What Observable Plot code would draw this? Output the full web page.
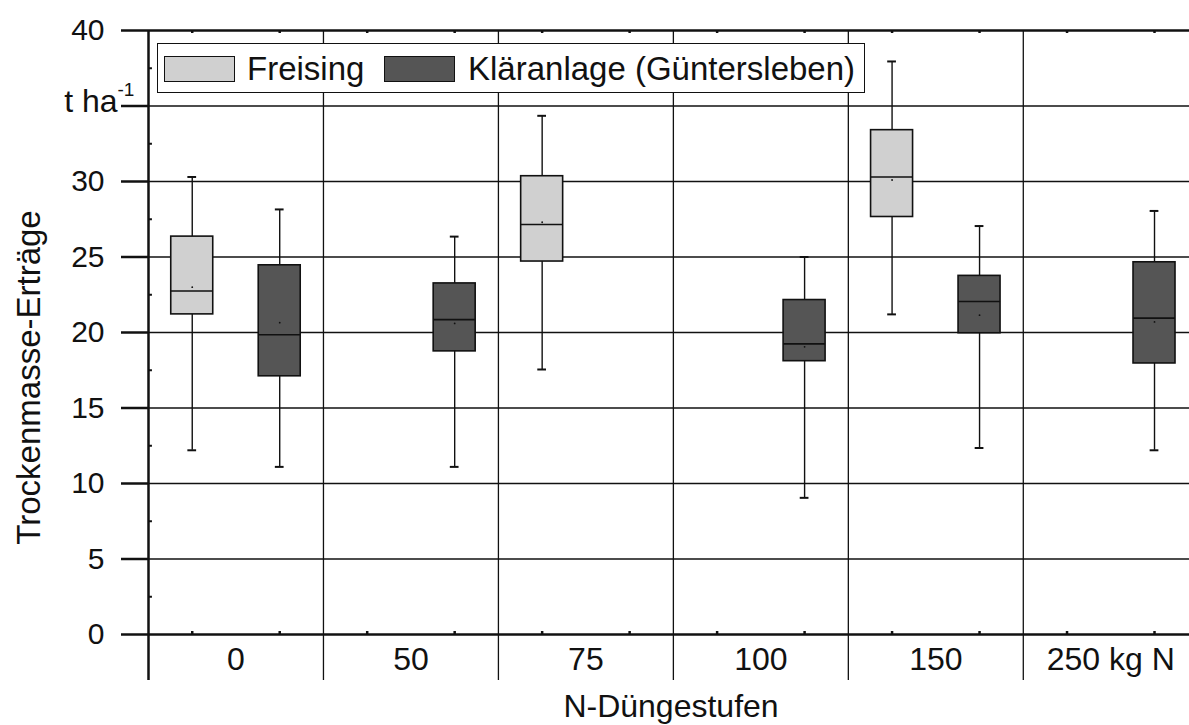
<!DOCTYPE html>
<html>
<head>
<meta charset="utf-8">
<script src="https://cdn.jsdelivr.net/npm/d3@7"></script>
<script src="https://cdn.jsdelivr.net/npm/@observablehq/plot@0.6"></script>
<style>
  html, body { margin: 0; padding: 0; background: white; overflow: hidden; }
  #wrap { position: relative; width: 1189px; height: 725px; font-family: "Liberation Sans", Arial, sans-serif; }
  #legend { position: absolute; left: 157px; top: 43px; width: 706px; height: 48px; border: 1.5px solid #111; background: white; }
  .sw { position: absolute; top: 12px; width: 69px; height: 24px; border: 1.5px solid #111; }
  .lt { position: absolute; top: 8px; font-size: 33px; line-height: 33px; color: #111; white-space: nowrap; }
</style>
</head>
<body>
<div id="wrap">
  <div id="chart"></div>
  <div id="legend"></div>
</div>
<script>
// ---- data ----
const categories = ["0", "50", "75", "100", "150", "250 kg N"];
const seriesNames = ["Freising", "Kläranlage (Güntersleben)"];
const seriesColors = ["#d0d0d0", "#555555"];

// Freising
const frCats = ["0", "75", "150"];
const frLo   = [12.2, 17.55, 21.2];
const frQ1   = [21.2, 24.7, 27.65];
const frMed  = [22.75, 27.15, 30.3];
const frMean = [23.0, 27.3, 30.1];
const frQ3   = [26.35, 30.35, 33.4];
const frHi   = [30.3, 34.35, 37.95];

// Kläranlage (Güntersleben)
const klCats = ["0", "50", "100", "150", "250 kg N"];
const klLo   = [11.1, 11.1, 9.05, 12.35, 12.2];
const klQ1   = [17.1, 18.75, 18.1, 19.95, 17.95];
const klMed  = [19.85, 20.85, 19.25, 22.05, 20.95];
const klMean = [20.65, 20.6, 19.05, 21.15, 20.7];
const klQ3   = [24.45, 23.25, 22.15, 23.75, 24.65];
const klHi   = [28.15, 26.35, 25.0, 27.05, 28.05];

const yTicks = [0, 5, 10, 15, 20, 25, 30, 35, 40];
const yMinor = [2.5, 7.5, 12.5, 17.5, 22.5, 27.5, 32.5, 37.5];
const yUnitTick = 35;
const yUnit = "t ha";
const yUnitSup = "-1";
const xTitle = "N-Düngestufen";
const yTitle = "Trockenmasse-Erträge";

// ---- build table ----
function build(si, cats, lo, q1, med, mean, q3, hi) {
  return cats.map((c, i) => ({
    series: seriesNames[si],
    pos: 2 * categories.indexOf(c) + (si === 0 ? 0.5 : 1.5),
    lo: lo[i], q1: q1[i], med: med[i], mean: mean[i], q3: q3[i], hi: hi[i]
  }));
}
const rows = [
  ...build(0, frCats, frLo, frQ1, frMed, frMean, frQ3, frHi),
  ...build(1, klCats, klLo, klQ1, klMed, klMean, klQ3, klHi)
];
const nSlots = categories.length * 2;
const slotCenters = d3.range(nSlots).map(i => i + 0.5);
const catCenters = categories.map((c, i) => 2 * i + 1);
const catBounds = d3.range(1, categories.length).map(i => 2 * i);
const halfBox = 0.24, halfCap = 0.05;
const below = -3.05;

const chart = Plot.plot({
  width: 1189,
  height: 725,
  marginLeft: 148,
  marginRight: 0,
  marginTop: 30,
  marginBottom: 91,
  x: {domain: [0, nSlots], range: [148, 1197.75], axis: null, label: null},
  y: {domain: [0, 40], axis: null, label: null},
  color: {domain: seriesNames, range: seriesColors},
  style: {fontFamily: "'Liberation Sans', Arial, sans-serif", background: "white", color: "#111", overflow: "visible"},
  marks: [
    // horizontal grid
    Plot.ruleY(yTicks.filter(v => v > 0 && v < 40), {x1: 0, x2: nSlots, stroke: "#111", strokeWidth: 1.3}),
    // vertical category separators
    Plot.ruleX(catBounds, {y1: 40, y2: below, stroke: "#111", strokeWidth: 1.3}),
    // frame top and bottom
    Plot.ruleY([40], {x1: 0, x2: nSlots, stroke: "#111", strokeWidth: 2.5}),
    Plot.ruleY([0], {x1: 0, x2: nSlots, stroke: "#111", strokeWidth: 2.5}),
    // left axis line
    Plot.ruleX([0], {y1: 40, y2: below, stroke: "#111", strokeWidth: 2.5}),
    // minor ticks
    Plot.ruleY(yMinor, {x1: 0, x2: 0.045, stroke: "#111", strokeWidth: 2}),
    Plot.ruleX(slotCenters, {y1: 40, y2: 39.8, stroke: "#111", strokeWidth: 2.5}),
    Plot.ruleX(slotCenters, {y1: 0, y2: 0.2, stroke: "#111", strokeWidth: 2.5}),
    // whiskers
    Plot.ruleX(rows, {x: "pos", y1: "lo", y2: "q1", stroke: "#111", strokeWidth: 1.4}),
    Plot.ruleX(rows, {x: "pos", y1: "q3", y2: "hi", stroke: "#111", strokeWidth: 1.4}),
    Plot.ruleY(rows, {y: "lo", x1: d => d.pos - halfCap, x2: d => d.pos + halfCap, stroke: "#111", strokeWidth: 2}),
    Plot.ruleY(rows, {y: "hi", x1: d => d.pos - halfCap, x2: d => d.pos + halfCap, stroke: "#111", strokeWidth: 2}),
    // boxes
    Plot.rect(rows, {x1: d => d.pos - halfBox, x2: d => d.pos + halfBox, y1: "q1", y2: "q3", fill: "series", stroke: "#111", strokeWidth: 1.6}),
    // medians
    Plot.ruleY(rows, {y: "med", x1: d => d.pos - halfBox, x2: d => d.pos + halfBox, stroke: "#111", strokeWidth: 1.6}),
    // means
    Plot.dot(rows, {x: "pos", y: "mean", r: 0.9, fill: "#111", stroke: null}),
    // y axis ticks & labels
    Plot.axisY({ticks: yTicks, tickSize: 27, tickPadding: 17, fontSize: 30, strokeWidth: 2.5, label: null,
      tickFormat: d => d === yUnitTick ? "" : String(d)}),
    // unit label
    Plot.text([yUnitTick], {y: d => d, frameAnchor: "left", dx: -31, dy: -4, text: () => yUnit, textAnchor: "end", fontSize: 32, fill: "#111"}),
    Plot.text([yUnitTick], {y: d => d, frameAnchor: "left", dx: -31, dy: -16, text: () => yUnitSup, textAnchor: "start", fontSize: 19, fill: "#111"}),
    // x category labels
    Plot.axisX({ticks: catCenters, tickSize: 0, tickPadding: 13, fontSize: 32, label: null,
      tickFormat: d => categories[(d - 1) / 2]}),
    // axis titles
    Plot.text([xTitle], {frameAnchor: "bottom", textAnchor: "middle", lineAnchor: "middle", dx: 2, dy: 72, fontSize: 32, fill: "#111"}),
    Plot.text([yTitle], {frameAnchor: "left", textAnchor: "middle", lineAnchor: "middle", dx: -119, dy: 45, rotate: -90, fontSize: 33, fill: "#111"})
  ]
});
document.getElementById("chart").appendChild(chart);

// legend (HTML overlay)
const legend = document.getElementById("legend");
const items = [
  {swLeft: 6, txtLeft: 89},
  {swLeft: 226, txtLeft: 310}
];
seriesNames.forEach((name, i) => {
  const sw = document.createElement("div");
  sw.className = "sw";
  sw.style.left = items[i].swLeft + "px";
  sw.style.background = seriesColors[i];
  legend.appendChild(sw);
  const t = document.createElement("div");
  t.className = "lt";
  t.style.left = items[i].txtLeft + "px";
  t.textContent = name;
  legend.appendChild(t);
});
</script>
</body>
</html>
